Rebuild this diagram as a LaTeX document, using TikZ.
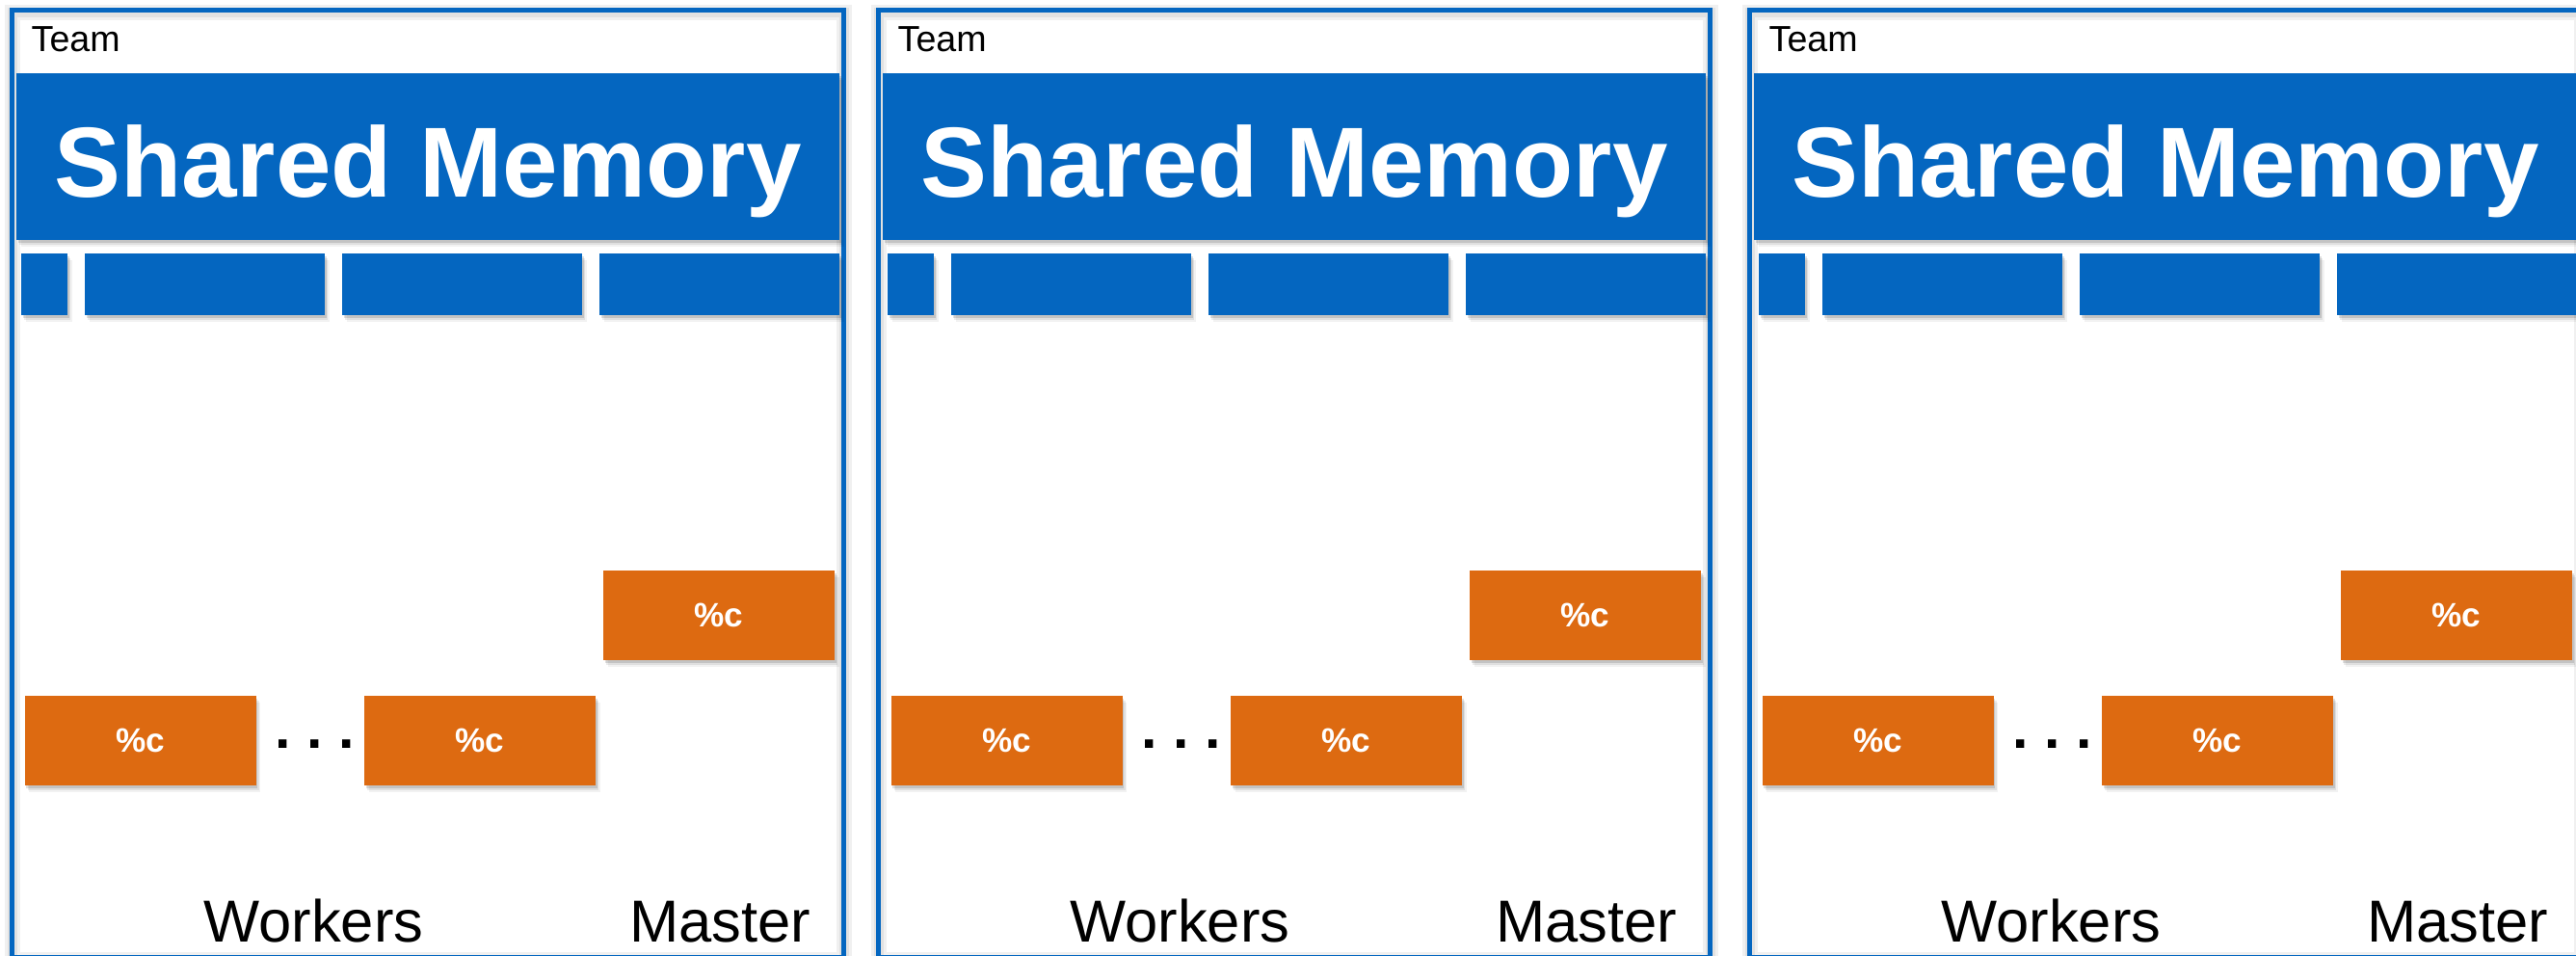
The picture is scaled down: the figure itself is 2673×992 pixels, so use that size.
\documentclass[tikz,border=0pt]{standalone}
\usepackage{fontspec}
\setmainfont{Liberation Sans}
\usetikzlibrary{shadows}
\definecolor{memblue}{HTML}{0466C0}
\definecolor{thrdorange}{HTML}{DD6A11}
\tikzset{
  softshadow/.style={
    drop shadow={shadow xshift=0.15mm, shadow yshift=-0.3mm, fill=black, opacity=.12},
    drop shadow={shadow xshift=0.3mm, shadow yshift=-0.5mm, fill=black, opacity=.08},
    drop shadow={shadow xshift=0.45mm, shadow yshift=-0.7mm, fill=black, opacity=.05}},
  teamframe/.style={draw=memblue, line width=0.55mm},
  framehalo/.style={draw=black, line width=#1, opacity=.06, yshift=-0.2mm},
  membar/.style={fill=memblue, inner sep=0pt,
                 minimum width=85.4mm, minimum height=17.3mm, softshadow},
  slot/.style={fill=memblue, inner sep=0pt,
               minimum width=#1, minimum height=6.4mm, softshadow},
  thread/.style={fill=thrdorange, inner sep=0pt,
                 minimum width=24mm, minimum height=9.3mm, softshadow,
                 text=white, font=\fontsize{10}{12}\selectfont\bfseries},
  memtext/.style={text=white, inner sep=0pt, anchor=base,
                  font=\fontsize{29.4}{34}\selectfont\bfseries},
  teamlabel/.style={inner sep=0pt, anchor=base west,
                    font=\fontsize{10.7}{12}\selectfont},
  rolelabel/.style={inner sep=0pt, anchor=base,
                    font=\fontsize{17.5}{20}\selectfont},
  gapdots/.style={inner sep=0pt, font=\fontsize{16.8}{18}\selectfont\bfseries}
}
\begin{document}
\begin{tikzpicture}[x=0.1mm,y=-0.1mm]
  \useasboundingbox (0,0) rectangle (2673,992);
  \clip (0,0) rectangle (2673,992);
  \fill[white] (0,0) rectangle (2673,992);
  \foreach \p/\dx in {1/0,2/899,3/1803} {
    \begin{scope}[shift={(\dx,0)}]
      % team frame with a soft halo
      \draw[framehalo=1.6mm] (12.5,10.5) rectangle (875.5,994);
      \draw[framehalo=1mm] (12.5,10.5) rectangle (875.5,994);
      \draw[teamframe] (12.5,10.5) rectangle (875.5,994);
      \node[teamlabel] (team-\p) at (32,53) {Team};
      % shared memory and its slots
      \node[membar] (mem-\p) at (444,162.5) {};
      \node[memtext] (memtxt-\p) at (444,204) {Shared Memory};
      \node[slot=4.8mm] (slot0-\p) at (46,295) {};
      \foreach \k/\cx in {1/212.5,2/479.5,3/746.5}
        \node[slot=24.9mm] (slot\k-\p) at (\cx,295) {};
      % threads
      \node[thread] (mst-\p) at (746,638.5) {\%c};
      \node[thread] (wrka-\p) at (145.5,768.5) {\%c};
      \node[thread] (wrkb-\p) at (498,768.5) {\%c};
      \node[gapdots] (dots-\p) at (326.5,772.5) {.\kern4.7pt.\kern4.7pt.};
      \node[rolelabel] (lblw-\p) at (325.5,977) {Workers};
      \node[rolelabel] (lblm-\p) at (747,977) {Master};
    \end{scope}
  }
\end{tikzpicture}
\end{document}
